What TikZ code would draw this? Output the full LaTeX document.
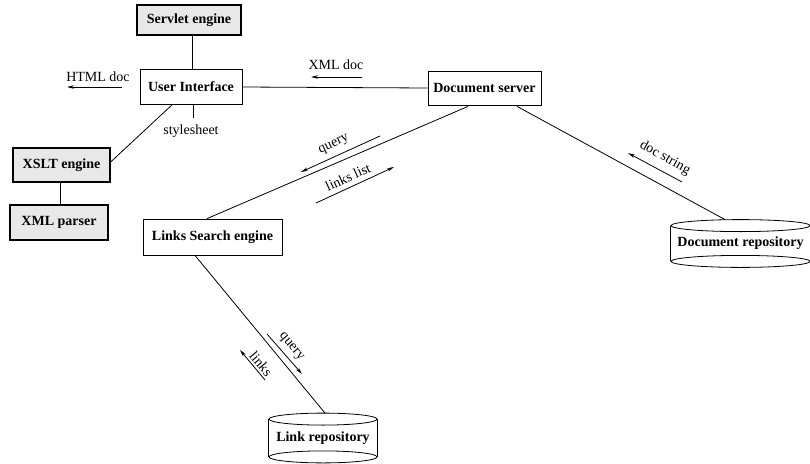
\documentclass[tikz,border=0pt]{standalone}
\usepackage{fontspec}
\setmainfont{Liberation Serif}
\usetikzlibrary{arrows.meta,calc}
\begin{document}
\begin{tikzpicture}[x=1pt,y=-1pt,
  font=\fontsize{14}{16}\selectfont,
  line width=0.8pt,
  plainbox/.style={draw,rectangle,inner sep=0pt,font=\fontsize{14}{16}\selectfont\bfseries},
  graybox/.style={plainbox,fill=gray!18,line width=1.3pt},
  cyl/.style={rectangle,inner sep=0pt,font=\fontsize{14}{16}\selectfont\bfseries},
  flow/.style={-{Stealth[length=7pt,width=3.5pt]},line width=0.8pt},
  lab/.style={inner sep=0pt}]
\useasboundingbox (0,0) rectangle (810,463);

% boxes
\node[graybox,minimum width=104pt,minimum height=30pt] (servlet) at (189,20) {Servlet engine};
\node[plainbox,minimum width=102pt,minimum height=35pt] (ui) at (191,87) {User Interface};
\node[plainbox,minimum width=113pt,minimum height=34pt] (docsrv) at (484.5,88) {Document server};
\node[graybox,minimum width=97pt,minimum height=34pt] (xslt) at (61.5,165) {XSLT engine};
\node[graybox,minimum width=98pt,minimum height=35pt] (xmlp) at (59,222.5) {XML parser};
\node[plainbox,minimum width=139pt,minimum height=36pt] (links) at (212.5,237) {Links Search engine};

% cylinders
\node[cyl,minimum width=139pt,minimum height=47pt] (docrepo) at (740.5,243.5) {Document repository};
\node[cyl,minimum width=108pt,minimum height=49pt] (linkrepo) at (323,438) {Link repository};
\foreach \c in {docrepo,linkrepo}{
  \draw ($(\c.north west)+(0,6)$) -- ($(\c.south west)+(0,-6)$);
  \draw ($(\c.north east)+(0,6)$) -- ($(\c.south east)+(0,-6)$);
}
\draw ($(docrepo.north)+(0,6)$) ellipse [x radius=69.5pt,y radius=6pt];
\draw ($(docrepo.south)+(0,-6)$) ellipse [x radius=69.5pt,y radius=6pt];
\draw ($(linkrepo.north)+(0,6)$) ellipse [x radius=54pt,y radius=6pt];
\draw ($(linkrepo.south)+(0,-6)$) ellipse [x radius=54pt,y radius=6pt];

% connectors
\draw ($(servlet.south)+(3,0)$) -- ($(ui.north)+(1,0)$);
\draw (ui.east) -- (docsrv.west);
\draw ($(ui.south)+(-19,0)$) -- ($(xslt.east)+(0,-3)$);
\draw ($(xslt.south)+(-1.5,0)$) -- ($(xmlp.north)+(1,0)$);
\draw ($(docsrv.south)+(-16.5,1)$) -- ($(links.north)+(-5.5,0)$);
\draw ($(docsrv.south)+(32.5,1)$) -- ($(docrepo.north)+(-15.5,0)$);
\draw ($(links.south)+(-17.5,0)$) -- ($(linkrepo.north)+(2,0)$);

% stylesheet tick
\coordinate (st1) at (193,105);
\coordinate (st2) at (193,118);
\draw (st1) -- (st2);
\node[lab] (stylesheet) at (191,131) {stylesheet};

% HTML doc
\node[lab] (htmldoc) at (98,77) {HTML doc};
\coordinate (h1) at (122,87);
\coordinate (h2) at (67,87);
\draw[flow] (h1) -- (h2);

% XML doc
\node[lab] (xmldoc) at (336,65) {XML doc};
\coordinate (x1) at (362,77);
\coordinate (x2) at (311,77);
\draw[flow] (x1) -- (x2);

% query / links list
\node[lab,rotate=24.5] (query1) at (334,145) {query};
\coordinate (q1) at (380,136);
\coordinate (q2) at (301,172);
\draw[flow] (q1) -- (q2);
\node[lab,rotate=24.5] (linkslist) at (348,177) {links list};
\coordinate (l1) at (316,203);
\coordinate (l2) at (394,167);
\draw[flow] (l1) -- (l2);

% doc string
\node[lab,rotate=-29] (docstring) at (665,158) {doc string};
\coordinate (d1) at (682,182);
\coordinate (d2) at (628,153);
\draw[flow] (d1) -- (d2);

% query / links (lower)
\node[lab,rotate=-50] (query2) at (291,347) {query};
\coordinate (q3) at (267,334);
\coordinate (q4) at (302,374);
\draw[flow] (q3) -- (q4);
\node[lab,rotate=-50] (linkslab) at (261,364) {links};
\coordinate (k1) at (265,380);
\coordinate (k2) at (240,350);
\draw[flow] (k1) -- (k2);
\end{tikzpicture}
\end{document}
